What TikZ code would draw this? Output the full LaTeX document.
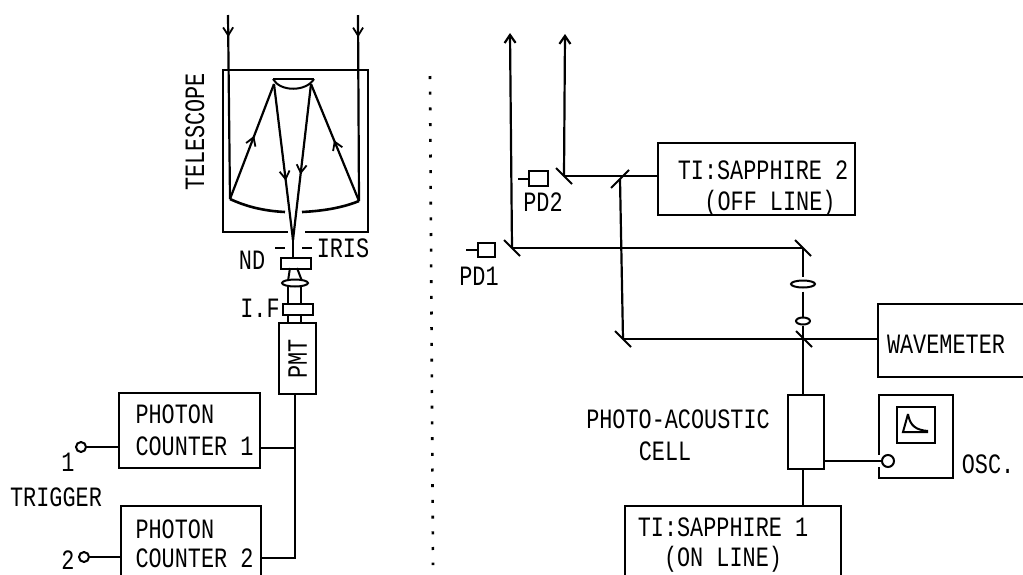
\documentclass[tikz,border=0pt]{standalone}
\usepackage{fontspec}
\setmonofont[FakeStretch=0.78]{Liberation Mono}
\usetikzlibrary{arrows.meta,decorations.markings,shapes.geometric}
\tikzset{
  txt/.style={font=\fontsize{28}{32}\selectfont\ttfamily,inner sep=0pt},
  boxed/.style={draw,line width=2.4pt,anchor=north west,inner sep=0pt},
  beam/.style={line width=2.2pt},
  optic/.style={line width=2pt},
  term/.style={circle,draw,line width=2pt,fill=white,inner sep=0pt,minimum size=#1},
  lens/.style={ellipse,draw,line width=2pt,fill=white,inner sep=0pt},
  barb/.style={postaction={decorate},decoration={markings,mark=at position #1 with {\arrow{Straight Barb[length=8pt,width=10pt,line width=1.8pt]}}}}
}
\begin{document}
\begin{tikzpicture}[x=1pt,y=-1pt]
\useasboundingbox (0,0) rectangle (1023,574);
% Telescope
\node[boxed,minimum width=145,minimum height=162] (tele) at (222,69) {};
\draw[white,line width=4pt] (288,231) -- (305,231);
\coordinate (Pa) at (230,199);
\coordinate (Pb) at (359,201);
\coordinate (Sa) at (274,84);
\coordinate (Sb) at (311,84);
\coordinate (F) at (293,240);
\draw[line width=2.6pt] (273,79) -- (314,79);
\draw[optic] (273,79) .. controls (280,92) and (306,92) .. (314,79);
\draw[line width=2.6pt] (Pa) .. controls (247,207) and (265,211) .. (285,212);
\draw[line width=2.6pt] (302,212) .. controls (322,211) and (342,208) .. (Pb);
% Rays
\draw[beam,barb=.12] (228,15) -- (Pa);
\draw[beam,barb=.12] (358,15) -- (Pb);
\draw[beam,barb=.55] (Pa) -- (Sa);
\draw[beam,barb=.52] (Pb) -- (Sb);
\draw[beam,barb=.62] (Sa) -- (F);
\draw[beam,barb=.58] (Sb) -- (F);
\draw[beam] (F) -- (293,257);
\node[txt,rotate=90] (telelabel) at (195,132) {TELESCOPE};
% Iris and filters
\draw[optic] (275,248) -- (285,248);
\draw[optic] (302,248) -- (312,248);
\node[txt] (iris) at (343,248) {IRIS};
\node[txt] (nd) at (252,260) {ND};
\node[txt] (if) at (260,308) {I.F};
\draw[optic] (290,268) -- (288,281);
\draw[optic] (297,268) -- (302,281);
\draw[optic] (288,285) -- (288,303);
\draw[optic] (301,285) -- (301,303);
\draw[optic] (288,314) -- (288,322);
\draw[optic] (301,314) -- (301,322);
\node[boxed,minimum width=30,minimum height=11] (ndbox) at (280,257) {};
\node[lens,minimum width=26,minimum height=7] (lensA) at (295,283) {};
\node[boxed,minimum width=30,minimum height=11] (ifbox) at (282,303) {};
\node[boxed,minimum width=37,minimum height=71] (pmt) at (278,322) {};
\node[txt,rotate=90] (pmtlabel) at (pmt.center) {PMT};
% Counters
\node[boxed,minimum width=141,minimum height=75] (countA) at (118,392) {};
\node[boxed,minimum width=140,minimum height=85] (countB) at (120,505) {};
\node[txt,align=left] (countAlabel) at (194.5,430) {PHOTON\\COUNTER 1};
\node[txt,align=left] (countBlabel) at (194.5,544) {PHOTON\\[-3pt]COUNTER 2};
\coordinate (Ja) at (295,448);
\coordinate (Jb) at (295,558);
\draw[beam] (295,393) -- (Jb) -- (Jb -| countB.east);
\draw[beam] (Ja) -- (Ja -| countA.east);
% Trigger
\node[term=10] (trigA) at (81,447) {};
\node[term=10] (trigB) at (84,557) {};
\draw[beam] (trigA) -- (trigA -| countA.west);
\draw[beam] (trigB) -- (trigB -| countB.west);
\node[txt] (numA) at (68,462) {1};
\node[txt] (numB) at (68,560) {2};
\node[txt] (trigger) at (56,497) {TRIGGER};
% Dotted divider
\draw[line width=2.6pt,dash pattern=on 3pt off 12.7pt] (430,76) -- (433,565);
% Mirrors
\coordinate (Ma) at (512,248);
\coordinate (Mb) at (564,176);
\coordinate (Mc) at (620,179);
\coordinate (Md) at (803,248);
\coordinate (Me) at (623,339);
\coordinate (Mf) at (804,339);
\foreach \c in {Ma,Mb,Md,Me,Mf}
  \draw[optic] ([shift={(-8,-8)}]\c) -- ([shift={(8,8)}]\c);
\draw[optic] ([shift={(-9,9)}]Mc) -- ([shift={(9,-9)}]Mc);
% Lasers
\node[boxed,minimum width=197,minimum height=72] (tib) at (657,142) {};
\node[boxed,minimum width=216,minimum height=85] (tia) at (624,505) {};
\node[txt] (tibtop) at (763,170) {TI:SAPPHIRE 2};
\node[txt] (tibsub) at (770,203) {(OFF LINE)};
\node[txt] (tiatop) at (723,527) {TI:SAPPHIRE 1};
\node[txt] (tiasub) at (723,559) {(ON LINE)};
\node[boxed,minimum width=160,minimum height=73] (wave) at (877,303) {};
\node[txt] (wavelabel) at (946,344) {WAVEMETER};
% Beams
\draw[beam,-{Straight Barb[length=8pt,width=11pt]}] (Ma) -- (510,33);
\draw[beam,-{Straight Barb[length=8pt,width=11pt]}] (Mb) -- (565,34);
\draw[beam] (Mb) -- (Mb -| tib.west);
\draw[beam] (Mc) -- (Me);
\draw[beam] (Ma) -- (Md);
\draw[beam] (Me) -- (Me -| wave.west);
% Lenses
\node[lens,minimum width=24,minimum height=7] (lensB) at (803,284) {};
\node[lens,minimum width=14,minimum height=7] (lensC) at (803,321) {};
\node[boxed,minimum width=36,minimum height=74] (cell) at (787,394) {};
\draw[beam,shorten >=3pt] (Md) -- (lensB);
\draw[beam,shorten <=3pt] (lensB) -- (lensC);
\draw[beam] (lensC) -- (cell.north -| lensC);
\draw[beam] (cell.south -| lensC) -- (tia.north -| lensC);
\node[txt] (celllabel) at (678,419) {PHOTO-ACOUSTIC};
\node[txt] (celllabelb) at (665,451) {CELL};
% Oscilloscope
\node[boxed,minimum width=74,minimum height=83] (osc) at (878,394) {};
\draw[white,line width=4pt] (878,455) -- (878,467);
\node[boxed,minimum width=38,minimum height=36] (screen) at (896,406) {};
\draw[optic] (908,414) -- (903,432) -- (928,432);
\draw[optic] (908,414) .. controls (910,426) and (916,430) .. (928,431);
\node[term=12] (port) at (888,461) {};
\draw[beam] (port -| cell.east) -- (port);
\node[txt] (osclabel) at (988,464) {OSC.};
% Detectors
\node[boxed,line width=2pt,minimum width=19,minimum height=15] (pdb) at (528,170) {};
\node[boxed,line width=2pt,minimum width=17,minimum height=14] (pda) at (477,242) {};
\draw[optic] (pdb.west) -- ++(-10,0);
\draw[optic] (pda.west) -- ++(-11,0);
\node[txt] (pdblabel) at (543,202) {PD2};
\node[txt] (pdalabel) at (479,276) {PD1};
\end{tikzpicture}
\end{document}
